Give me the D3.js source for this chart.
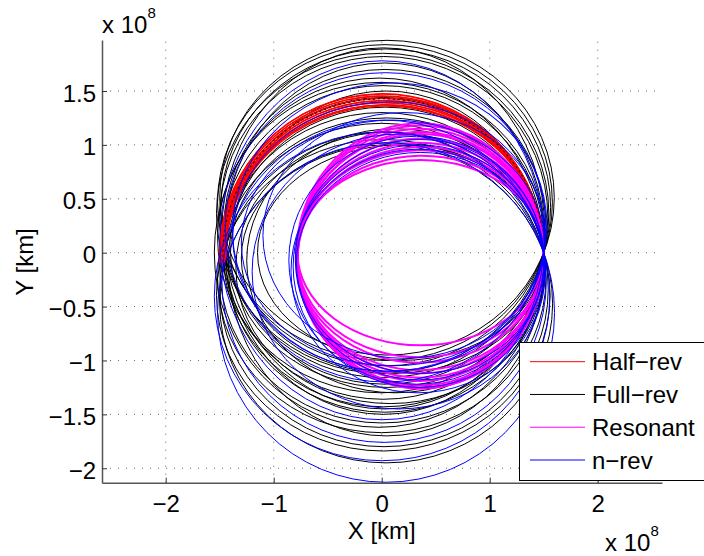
<!DOCTYPE html>
<html>
<head>
<meta charset="utf-8">
<script src="https://cdn.jsdelivr.net/npm/d3@7"></script>
<style>
  html, body { margin: 0; padding: 0; background: #fff; }
  svg { display: block; font-family: "Liberation Sans", Arial, Helvetica, sans-serif; }
</style>
</head>
<body>
<svg id="chart" width="704" height="556"></svg>
<script>
// Units: 1e8 km. Every trajectory passes through the Earth departure point.
const EARTH = [1.5, 0];

// Each orbit: [left extent, top extent, bottom extent, tilt about Earth point (deg)]
const halfRev = [
  [-1.44, 1.36, -1.36, 0], [-1.45, 1.37, -1.38, 0], [-1.45, 1.38, -1.39, 0.3],
  [-1.46, 1.39, -1.40, 0], [-1.46, 1.40, -1.42, 0.3], [-1.47, 1.41, -1.43, 0],
  [-1.47, 1.42, -1.44, 0.4], [-1.48, 1.43, -1.45, 0], [-1.48, 1.44, -1.46, 0.3],
  [-1.49, 1.45, -1.47, 0], [-1.49, 1.46, -1.48, 0.2], [-1.50, 1.47, -1.49, 0],
  [-1.50, 1.48, -1.50, 0.2]
];
const halfRevTrace = [[-1.47, 1.43, -1.44, 0.1]];

const fullRev = [
  [-1.50, 1.97, -0.95, 0], [-1.52, 1.93, -1.00, 0], [-1.49, 1.89, -1.05, 0],
  [-1.53, 1.85, -1.12, 0], [-1.50, 1.82, -1.16, 0], [-1.46, 1.70, -1.22, 0],
  [-1.52, 1.58, -1.30, 0], [-1.48, 1.55, -1.36, 0], [-1.47, 1.44, -1.43, 0],
  [-1.44, 1.35, -1.48, 0], [-1.50, 1.30, -1.58, 0], [-1.52, 1.20, -1.67, 0],
  [-1.50, 1.12, -1.80, 0], [-1.53, 1.05, -1.84, 0], [-1.50, 1.00, -1.95, 0],
  [-1.55, 1.62, -1.62, 0], [-1.45, 1.76, -1.45, 0], [-1.40, 1.25, -1.25, 0],
  [-1.30, 1.02, -1.12, 0], [-1.15, 1.00, -1.00, 0], [-1.35, 1.12, -1.40, 0],
  [-1.42, 1.50, -1.70, 0], [-1.48, 1.90, -1.50, 0], [-1.25, 1.15, -1.30, 0]
];

const resonant = [
  [-0.78, 0.86, -0.86, 0], [-0.78, 0.92, -0.95, 1], [-0.79, 0.97, -1.00, 1],
  [-0.78, 1.02, -1.05, 2], [-0.79, 1.06, -1.08, 2], [-0.78, 1.10, -1.12, 2],
  [-0.79, 1.14, -1.15, 2], [-0.78, 1.18, -1.17, 3], [-0.79, 1.21, -1.19, 3],
  [-0.78, 1.24, -1.20, 3], [-0.79, 1.26, -1.20, 3]
];

const nRev = [
  [-1.52, 1.02, -2.13, 0], [-1.55, 1.12, -1.93, 0], [-1.48, 1.23, -1.76, 0],
  [-1.45, 1.67, -1.20, 0], [-1.50, 1.78, -1.55, 0], [-1.38, 1.40, -1.10, 0],
  [-1.30, 1.23, -1.05, 0], [-0.82, 1.00, -1.25, 0], [-0.80, 1.05, -1.18, 0],
  [-0.84, 0.96, -1.30, 0], [-0.86, 1.08, -1.22, 0], [-0.79, 0.93, -1.12, 0],
  [-1.20, 1.10, -1.45, 0], [-1.35, 1.72, -0.95, 6], [-1.10, 1.30, -0.98, 0]
];

const series = [
  { name: "Half\u2212rev", color: "#ff0000" },
  { name: "Full\u2212rev", color: "#000000" },
  { name: "Resonant", color: "#ff00ff" },
  { name: "n\u2212rev", color: "#0000ff" }
];

const xTicks = [-2, -1, 0, 1, 2];
const xTickLabels = ["\u22122", "\u22121", "0", "1", "2"];
const yTicks = [-2, -1.5, -1, -0.5, 0, 0.5, 1, 1.5];
const yTickLabels = ["\u22122", "\u22121.5", "\u22121", "\u22120.5", "0", "0.5", "1", "1.5"];

const svg = d3.select("#chart");
const axLeft = 102, axRight = 662, axTop = 40, axBottom = 482.7;
const x = d3.scaleLinear().domain([-2.59, 2.595]).range([axLeft, axRight]);
const y = d3.scaleLinear().domain([-2.134, 1.973]).range([axBottom, axTop]);

// Ellipse through the Earth point, given its left, top and bottom extents.
function geom([L, T, B, tilt]) {
  const cy = (T + B) / 2, ry = (T - B) / 2;
  const s = Math.sqrt(Math.max(0, 1 - (cy / ry) ** 2));
  const rx = (EARTH[0] - L) / (1 + s);
  const cx = L + rx;
  return { cx, cy, rx, ry, tilt, tP: Math.atan2(-cy / ry, s) };
}
const ex = EARTH[0], ey = EARTH[1];
const rotate = g => `rotate(${-g.tilt},${x(ex)},${y(ey)})`;

// grid
const grid = svg.append("g").attr("stroke", "#666").attr("stroke-width", 1)
  .attr("stroke-dasharray", "1,7");
grid.selectAll("line.v").data(xTicks).join("line").attr("class", "v")
  .attr("x1", d => x(d)).attr("x2", d => x(d)).attr("y1", axBottom).attr("y2", axTop);
grid.selectAll("line.h").data(yTicks).join("line").attr("class", "h")
  .attr("y1", d => y(d)).attr("y2", d => y(d)).attr("x1", axLeft).attr("x2", axRight);

const plot = svg.append("g").attr("fill", "none");

function drawFull(data, color, width) {
  plot.append("g").attr("stroke", color).attr("stroke-width", width)
    .selectAll("ellipse").data(data.map(geom)).join("ellipse")
    .attr("cx", g => x(g.cx)).attr("cy", g => y(g.cy))
    .attr("rx", g => x(g.rx) - x(0)).attr("ry", g => y(0) - y(g.ry))
    .attr("transform", rotate);
}
function drawHalf(data, color, width, dash) {
  const tEnd = Math.PI + 0.05;
  plot.append("g").attr("stroke", color).attr("stroke-width", width)
    .attr("stroke-dasharray", dash || null)
    .selectAll("path").data(data.map(geom)).join("path")
    .attr("d", g => {
      const exE = g.cx + g.rx * Math.cos(tEnd), eyE = g.cy + g.ry * Math.sin(tEnd);
      const large = (tEnd - g.tP) > Math.PI ? 1 : 0;
      return `M${x(ex)},${y(ey)}A${x(g.rx) - x(0)},${y(0) - y(g.ry)} 0 ${large} 0 ${x(exE)},${y(eyE)}`;
    })
    .attr("transform", rotate);
}

drawFull(fullRev, "#000", 1);
drawHalf(halfRev, "#ff0000", 1.3);
drawHalf(halfRevTrace, "#000", 1, "2,3");
drawFull(resonant, "#ff00ff", 2);
drawFull(nRev, "#0000ff", 1);

// axes
const fontSize = 24;
const xAxis = svg.append("g").attr("transform", `translate(0,${axBottom})`)
  .call(d3.axisBottom(x).tickValues(xTicks).tickFormat((d, i) => xTickLabels[i])
    .tickSizeInner(-5).tickSizeOuter(0).tickPadding(12));
const yAxis = svg.append("g").attr("transform", `translate(${axLeft},0)`)
  .call(d3.axisLeft(y).tickValues(yTicks).tickFormat((d, i) => yTickLabels[i])
    .tickSizeInner(-5).tickSizeOuter(0).tickPadding(6));
[xAxis, yAxis].forEach(a => {
  a.select(".domain").attr("stroke", "#555").attr("stroke-width", 1.5);
  a.selectAll(".tick line").attr("stroke", "#333");
  a.selectAll(".tick text").attr("fill", "#000").style("font-size", fontSize + "px")
    .style("font-family", "'Liberation Sans', Arial, sans-serif");
});
yAxis.selectAll(".tick text").attr("dy", "0.42em");

// axis titles and exponent labels
svg.append("text").attr("x", x(0)).attr("y", 539).attr("text-anchor", "middle")
  .style("font-size", fontSize + "px").text("X [km]");
svg.append("text").attr("transform", "translate(33,262) rotate(-90)").attr("text-anchor", "middle")
  .style("font-size", fontSize + "px").text("Y [km]");
function exponent(xp, yp) {
  const t = svg.append("text").attr("x", xp).attr("y", yp).style("font-size", fontSize + "px");
  t.append("tspan").text("x 10");
  t.append("tspan").attr("dy", -15).style("font-size", "15px").text("8");
}
exponent(102, 33);
exponent(605, 551);

// legend
const lg = svg.append("g");
lg.append("rect").attr("x", 519.5).attr("y", 342.5).attr("width", 200).attr("height", 138)
  .attr("fill", "#fff").attr("stroke", "#000").attr("stroke-width", 1);
const rowY = d3.scalePoint().domain(series.map(s => s.name)).range([361.7, 460]);
const rows = lg.selectAll("g.row").data(series).join("g").attr("class", "row");
rows.append("line").attr("x1", 530).attr("x2", 585)
  .attr("y1", d => rowY(d.name)).attr("y2", d => rowY(d.name))
  .attr("stroke", d => d.color).attr("stroke-width", 1);
rows.append("text").attr("x", 592).attr("y", d => rowY(d.name) + 8.5)
  .style("font-size", fontSize + "px").text(d => d.name);
</script>
</body>
</html>
